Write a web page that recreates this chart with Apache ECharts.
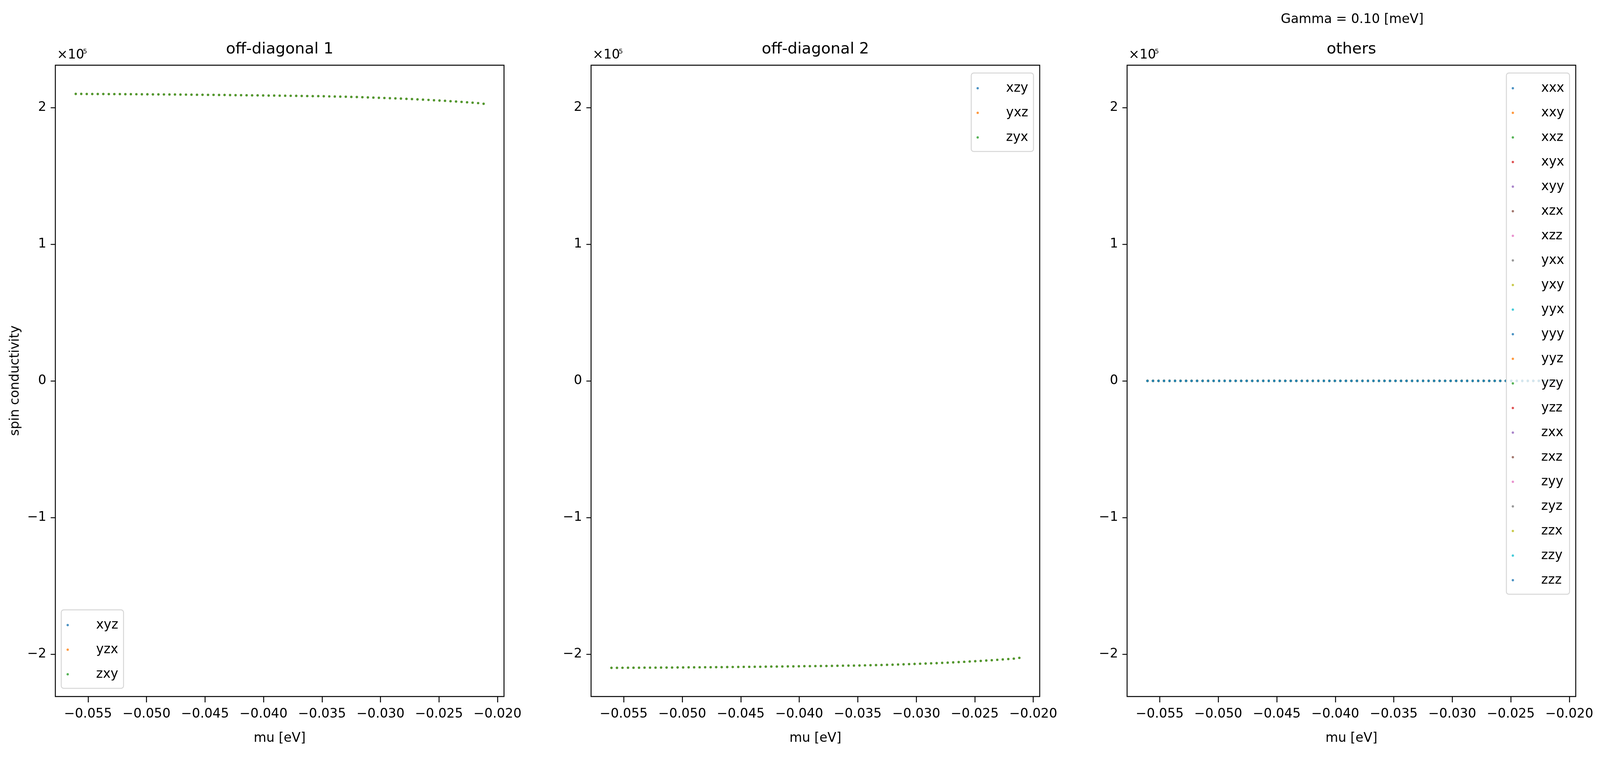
<!DOCTYPE html>
<html>
<head>
<meta charset="utf-8">
<script src="https://cdn.jsdelivr.net/npm/echarts@6/dist/echarts.min.js"></script>
<style>
html,body{margin:0;padding:0;background:#fff;overflow:hidden;}
#chart{position:absolute;left:0;top:0;}
</style>
</head>
<body>
<div id="chart"></div>
<script>
// ---------------- data ----------------
const mu = [
 -0.056050,-0.055579,-0.055108,-0.054637,-0.054166,-0.053695,-0.053224,-0.052752,-0.052281,-0.051810,
 -0.051339,-0.050868,-0.050397,-0.049926,-0.049455,-0.048984,-0.048513,-0.048042,-0.047571,-0.047100,
 -0.046628,-0.046157,-0.045686,-0.045215,-0.044744,-0.044273,-0.043802,-0.043331,-0.042860,-0.042389,
 -0.041918,-0.041447,-0.040976,-0.040505,-0.040033,-0.039562,-0.039091,-0.038620,-0.038149,-0.037678,
 -0.037207,-0.036736,-0.036265,-0.035794,-0.035323,-0.034852,-0.034381,-0.033909,-0.033438,-0.032967,
 -0.032496,-0.032025,-0.031554,-0.031083,-0.030612,-0.030141,-0.029670,-0.029199,-0.028728,-0.028257,
 -0.027785,-0.027314,-0.026843,-0.026372,-0.025901,-0.025430,-0.024959,-0.024488,-0.024017,-0.023546,
 -0.023075,-0.022604,-0.022133,-0.021661,-0.021190
];
const offDiag1Values = [
 210010,209991,209972,209953,209934,209915,209896,209877,209848,209819,
 209791,209762,209734,209705,209676,209648,209619,209591,209553,209514,
 209476,209438,209400,209362,209324,209286,209248,209200,209152,209105,
 209057,209009,208962,208914,208866,208819,208771,208723,208676,208619,
 208561,208504,208447,208390,208342,208266,208190,208104,208009,207913,
 207809,207694,207580,207456,207323,207180,207037,206884,206732,206570,
 206398,206217,206026,205826,205617,205397,205169,204930,204683,204425,
 204159,203882,203587,203263,202780
];
const offDiag2Values = [
 -210010,-209991,-209972,-209953,-209934,-209915,-209896,-209877,-209848,-209819,
 -209791,-209762,-209734,-209705,-209676,-209648,-209619,-209591,-209553,-209514,
 -209476,-209438,-209400,-209362,-209324,-209286,-209248,-209200,-209152,-209105,
 -209057,-209009,-208962,-208914,-208866,-208819,-208771,-208723,-208676,-208619,
 -208561,-208504,-208447,-208390,-208342,-208266,-208190,-208104,-208009,-207913,
 -207809,-207694,-207580,-207456,-207323,-207180,-207037,-206884,-206732,-206570,
 -206398,-206217,-206026,-205826,-205617,-205397,-205169,-204930,-204683,-204425,
 -204159,-203882,-203587,-203263,-202700
];
const othersValues = [
 0,0,0,0,0,0,0,0,0,0, 0,0,0,0,0,0,0,0,0,0, 0,0,0,0,0,0,0,0,0,0,
 0,0,0,0,0,0,0,0,0,0, 0,0,0,0,0,0,0,0,0,0, 0,0,0,0,0,0,0,0,0,0,
 0,0,0,0,0,0,0,0,0,0, 0,0,0,0,0
];
const offDiag1Names = ['xyz','yzx','zxy'];
const offDiag2Names = ['xzy','yxz','zyx'];
const othersNames = ['xxx','xxy','xxz','xyx','xyy','xzx','xzz','yxx','yxy','yyx','yyy',
                     'yyz','yzy','yzz','zxx','zxz','zyy','zyz','zzx','zzy','zzz'];
const panelTitles = ['off-diagonal 1','off-diagonal 2','others'];
const xTicks = [-0.055,-0.050,-0.045,-0.040,-0.035,-0.030,-0.025,-0.020];
const yTicks = [-200000,-100000,0,100000,200000];
const palette = ['#1f77b4','#ff7f0e','#2ca02c','#d62728','#9467bd','#8c564b','#e377c2','#7f7f7f','#bcbd22','#17becf'];

// ---------------- layout (reference pixels, mapped onto the window) ----------------
const REF_W = 5146, REF_H = 1944;
const W = window.innerWidth || REF_W, H = window.innerHeight || REF_H;
const sx = W / REF_W, sy = H / REF_H;
const px = v => v * sx;   // horizontal reference px
const py = v => v * sy;   // vertical reference px
const el = document.getElementById('chart');
el.style.width = W + 'px';
el.style.height = H + 'px';

const FONT = '"DejaVu Sans", "Liberation Sans", sans-serif';
const fsc = sx;                     // font scale
const FS = 41.7 * fsc;
const gridLefts = [178, 1901, 3625];
const gridW = 1443, gridTop = 167, gridH = 1617;
const xMin = -0.057793, xMax = -0.019447;
const yMin = -231011, yMax = 231011;

const minus = '\u2212';
const fmtX = v => (v < 0 ? minus : '') + Math.abs(v).toFixed(3);
const fmtY = v => { const n = Math.round(v / 1e5); return n < 0 ? minus + (-n) : '' + n; };

const grids = [], xAxes = [], yAxes = [], series = [], legends = [], graphics = [];
const LW = 3 * sx;

gridLefts.forEach((left, i) => {
  grids.push({
    left: px(left), top: py(gridTop), width: px(gridW), height: py(gridH),
    show: true, borderColor: '#000', borderWidth: LW, backgroundColor: 'transparent',
    containLabel: false, outerBoundsMode: 'none'
  });
  xAxes.push({
    type: 'value', gridIndex: i, min: xMin, max: xMax,
    axisLine: {show: false, onZero: false},
    axisTick: {show: true, inside: false, length: py(15), lineStyle: {color: '#000', width: LW}, customValues: xTicks},
    axisLabel: {show: true, margin: py(29), color: '#000', fontSize: FS, fontFamily: FONT, formatter: fmtX, customValues: xTicks},
    splitLine: {show: false}
  });
  yAxes.push({
    type: 'value', gridIndex: i, min: yMin, max: yMax,
    axisLine: {show: false, onZero: false},
    axisTick: {show: true, inside: false, length: px(15), lineStyle: {color: '#000', width: LW}, customValues: yTicks},
    axisLabel: {show: true, margin: px(29), color: '#000', fontSize: FS, fontFamily: FONT, formatter: fmtY, customValues: yTicks},
    splitLine: {show: false}
  });
  const cx = left + gridW / 2;
  graphics.push({type: 'text', x: px(cx), y: py(127), style: {text: panelTitles[i], fontSize: 50 * fsc, fontFamily: FONT, fill: '#000', align: 'center', verticalAlign: 'middle'}});
  graphics.push({type: 'text', x: px(cx), y: py(1891), style: {text: 'mu [eV]', fontSize: FS, fontFamily: FONT, fill: '#000', align: 'center', verticalAlign: 'middle'}});
  graphics.push({type: 'text', x: px(left + 5), y: py(141), style: {text: '\u00d710', fontSize: FS, fontFamily: FONT, fill: '#000', align: 'left', verticalAlign: 'middle'}});
  graphics.push({type: 'text', x: px(left + 89), y: py(133), style: {text: '5', fontSize: 21 * fsc, fontFamily: FONT, fill: '#000', align: 'left', verticalAlign: 'middle'}});
});

graphics.push({type: 'text', x: px(4349), y: py(50), style: {text: 'Gamma = 0.10 [meV]', fontSize: FS, fontFamily: FONT, fill: '#000', align: 'center', verticalAlign: 'middle'}});
graphics.push({type: 'text', x: px(49), y: py(975), rotation: Math.PI / 2, style: {text: 'spin conductivity', fontSize: FS, fontFamily: FONT, fill: '#000', align: 'center', verticalAlign: 'middle'}});

function addSeries(names, values, gi) {
  names.forEach((n, k) => {
    series.push({
      name: n, type: 'scatter', xAxisIndex: gi, yAxisIndex: gi,
      symbol: 'circle', symbolSize: 7.5 * sx,
      itemStyle: {color: palette[k % 10]},
      emphasis: {disabled: true},
      silent: true, animation: false,
      data: mu.map((x, j) => [x, values[j]])
    });
  });
}
addSeries(offDiag1Names, offDiag1Values, 0);
addSeries(offDiag2Names, offDiag2Values, 1);
addSeries(othersNames, othersValues, 2);

const legendBase = {
  orient: 'vertical', selectedMode: false,
  itemWidth: px(86), itemHeight: 7.5 * sx, itemGap: py(21),
  padding: [py(18), px(17), py(15), px(17)],
  backgroundColor: 'rgba(255,255,255,0.8)',
  borderColor: '#d6d6d6', borderWidth: LW, borderRadius: 8 * sx,
  icon: 'circle',
  textStyle: {color: '#000', fontSize: FS, fontFamily: FONT, lineHeight: py(42), padding: [0, 0, 0, px(42)]},
  z: 10
};
legends.push(Object.assign({}, legendBase, {data: offDiag1Names, left: px(197), bottom: py(REF_H - 1763)}));
legends.push(Object.assign({}, legendBase, {data: offDiag2Names, right: px(REF_W - 3324), top: py(187)}));
legends.push(Object.assign({}, legendBase, {data: othersNames, right: px(REF_W - 5048), top: py(187)}));

const chart = echarts.init(el, null, {renderer: 'canvas', width: W, height: H});
chart.setOption({
  backgroundColor: '#fff',
  animation: false,
  grid: grids, xAxis: xAxes, yAxis: yAxes,
  legend: legends,
  series: series,
  graphic: {elements: graphics}
});
</script>
</body>
</html>
